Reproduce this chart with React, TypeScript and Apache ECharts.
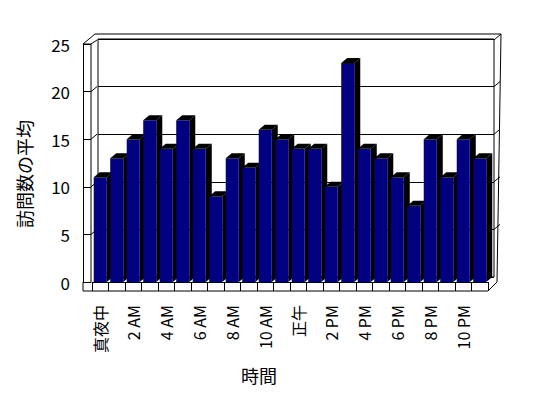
import React, { useEffect, useRef } from "react";
import * as echarts from "echarts";

const hours = [
  "真夜中", "1 AM", "2 AM", "3 AM", "4 AM", "5 AM", "6 AM", "7 AM", "8 AM", "9 AM", "10 AM", "11 AM",
  "正午", "1 PM", "2 PM", "3 PM", "4 PM", "5 PM", "6 PM", "7 PM", "8 PM", "9 PM", "10 PM", "11 PM",
];
const visits = [11, 13, 15, 17, 14, 17, 14, 9, 13, 12, 16, 15, 14, 14, 10, 23, 14, 13, 11, 8, 15, 11, 15, 13];
const yTicks = [0, 5, 10, 15, 20, 25];
const yTitle = "訪問数の平均";
const xTitle = "時間";

// layout (front plane of the 3D box, and depth offset to back wall)
const W = 548, H = 398;
const FL = 92, FR = 488, FT = 44, FB = 282;
const DX = 6, DY = 5;
const WALL_X = 83; // front edge of the left wall slab
const FLOOR_B = 291; // bottom of floor slab
const BAR_RATIO = 0.79;
const BAR_DX = 6, BAR_DY = 5;
const FONT = "'Noto Sans CJK JP', 'Noto Sans', sans-serif";

export default function App() {
  const ref = useRef<HTMLDivElement>(null);
  useEffect(() => {
    if (!ref.current) return;
    const chart = echarts.init(ref.current, null, { renderer: "svg" });
    const yMax = yTicks[yTicks.length - 1];
    const yOf = (v: number) => FB - ((FB - FT) * v) / yMax;
    const BL = FL + DX, BR = FR + DX, BT = FT - DY, BB = FB - DY;
    const line = (x1: number, y1: number, x2: number, y2: number) => ({
      type: "line",
      shape: { x1, y1, x2, y2 },
      style: { stroke: "#000", lineWidth: 1 },
      z: 1,
      silent: true,
    });
    const frame: any[] = [
      line(WALL_X, FB, WALL_X, FLOOR_B),
      line(WALL_X, FLOOR_B, FR, FLOOR_B),
      line(FR, FLOOR_B, BR + 3, FB),
      line(FL - 1, FT, FL - 1, FB),
      line(WALL_X, FT, FL - 1, FT),
      line(WALL_X, FT, FL + 3, FT - 10),
      line(FL - 1, FT, BL - 1, BT + 1),
      line(FL + 3, FT - 10, BR + 7, FT - 10),
      line(BR + 7, FT - 10, BR, BT + 1),
      line(BR + 7, FT - 10, BR + 3, FB),
    ];
    yTicks.forEach((v) => {
      if (v > 0 && v < yMax) {
        frame.push(line(FL - 1, yOf(v), BL - 1, yOf(v) - DY));
        frame.push(line(BR, yOf(v) - DY, BR + 6, yOf(v) - DY - 5));
      }
    });
    frame.push({
      type: "text",
      x: 24,
      y: 174,
      rotation: Math.PI / 2,
      style: {
        text: yTitle,
        fill: "#000",
        font: `18px ${FONT}`,
        align: "center",
        verticalAlign: "middle",
      },
    });
    frame.push({
      type: "text",
      x: 259,
      y: 375,
      style: {
        text: xTitle,
        fill: "#000",
        font: `18px ${FONT}`,
        align: "center",
        verticalAlign: "middle",
      },
    });

    chart.setOption({
      animation: false,
      backgroundColor: "#fff",
      grid: [
        { left: FL, right: W - FR, top: FT, bottom: H - FB, containLabel: false },
        {
          left: BL,
          right: W - BR,
          top: BT,
          bottom: H - BB,
          show: true,
          borderColor: "#000",
          borderWidth: 1,
          backgroundColor: "#fff",
          z: -1,
        },
      ],
      xAxis: [
        {
          type: "category",
          gridIndex: 0,
          data: hours,
          boundaryGap: true,
          axisLine: { show: true, lineStyle: { color: "#000", width: 1 } },
          axisTick: { show: true, interval: 0, length: FLOOR_B - FB, lineStyle: { color: "#000" } },
          axisLabel: {
            interval: 1,
            rotate: 90,
            margin: 23,
            color: "#000",
            fontSize: 16,
            fontFamily: FONT,
          },
          splitLine: { show: false },
        },
        {
          type: "category",
          gridIndex: 1,
          data: hours,
          show: false,
        },
      ],
      yAxis: [
        {
          type: "value",
          gridIndex: 0,
          min: 0,
          max: yMax,
          interval: 5,
          offset: FL - WALL_X,
          axisLine: { show: true, lineStyle: { color: "#000", width: 1 } },
          axisTick: { show: true, inside: true, length: FL - 1 - WALL_X, lineStyle: { color: "#000" } },
          axisLabel: { margin: 13, color: "#000", fontSize: 17, fontFamily: FONT },
          splitLine: { show: false },
        },
        {
          type: "value",
          gridIndex: 1,
          min: 0,
          max: yMax,
          interval: 5,
          axisLine: { show: false },
          axisTick: { show: false },
          axisLabel: { show: false },
          splitLine: { show: true, lineStyle: { color: "#000", width: 1 } },
        },
      ],
      series: [
        {
          type: "custom",
          xAxisIndex: 0,
          yAxisIndex: 0,
          data: visits.map((v, i) => [i, v]),
          encode: { x: 0, y: 1 },
          z: 5,
          renderItem: (params: any, api: any) => {
            const idx = api.value(0);
            const val = api.value(1);
            const top = api.coord([idx, val]);
            const base = api.coord([idx, 0]);
            const bw = api.size([1, 0])[0] * BAR_RATIO;
            const l = top[0] - bw / 2;
            const r = top[0] + bw / 2;
            const t = top[1];
            const b = base[1];
            return {
              type: "group",
              children: [
                {
                  type: "polygon",
                  shape: { points: [[r, t], [r + BAR_DX, t - BAR_DY], [r + BAR_DX, b - BAR_DY], [r, b]] },
                  style: { fill: "#000" },
                },
                {
                  type: "polygon",
                  shape: { points: [[l, t], [l + BAR_DX, t - BAR_DY], [r + BAR_DX, t - BAR_DY], [r, t]] },
                  style: { fill: "#000" },
                },
                {
                  type: "rect",
                  shape: { x: l, y: t, width: bw, height: b - t },
                  style: { fill: "#000080" },
                },
              ],
            };
          },
        },
      ],
      graphic: frame,
    });
    return () => chart.dispose();
  }, []);
  return (
    <div
      ref={ref}
      style={{ position: "absolute", left: 0, top: 0, width: W, height: H }}
    />
  );
}
